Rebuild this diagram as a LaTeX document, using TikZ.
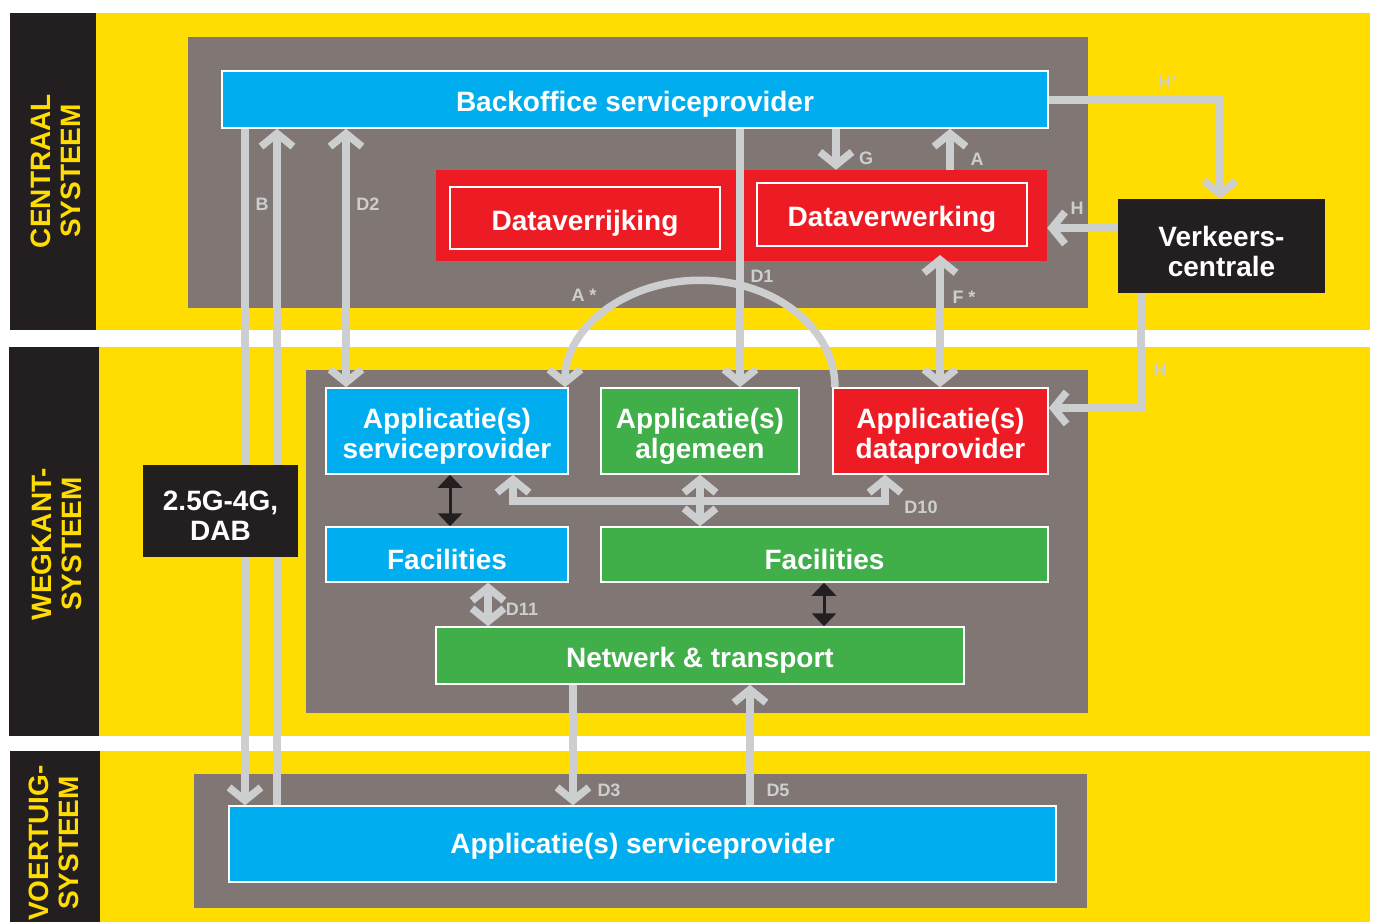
\documentclass[tikz,border=0pt]{standalone}
\usepackage{fontspec}
\setmainfont{Liberation Sans}
\usetikzlibrary{arrows.meta}
\definecolor{yellowC}{RGB}{255,221,0}
\definecolor{blackC}{RGB}{35,31,32}
\definecolor{panelC}{RGB}{128,118,115}
\definecolor{cyanC}{RGB}{0,174,239}
\definecolor{redC}{RGB}{237,28,36}
\definecolor{greenC}{RGB}{64,174,73}
\definecolor{connC}{RGB}{205,206,208}
\begin{document}
\begin{tikzpicture}[x=1pt,y=-1pt,
  Chev/.tip={Straight Barb[sharp,length=13pt,width=32pt]},
  BTri/.tip={Triangle[length=13pt,width=24pt]},
  txt/.style={inner sep=0pt,text=white,
    font=\bfseries\fontsize{28}{30}\selectfont,align=center,yshift=-5pt},
  box/.style={draw=white,line width=1.5pt,inner sep=0pt,
    label={[txt]center:{#1}}},
  widebox/.style={draw=white,line width=1.5pt,inner sep=0pt,
    label={[txt,yshift=3pt]center:{#1}}},
  plainbox/.style={inner sep=0pt,label={[txt]center:{#1}}},
  conn/.style={draw=connC,line width=7.5pt},
  blk/.style={draw=blackC,line width=3pt,{BTri}-{BTri}},
  lbl/.style={text=connC,font=\bfseries\fontsize{18}{20}\selectfont,inner sep=0pt},
  side/.style={text=yellowC,font=\bfseries\fontsize{28}{30}\selectfont,
    align=center,rotate=90,inner sep=0pt}]

\useasboundingbox (0,0) rectangle (1374,922);
\fill[white] (0,0) rectangle (1374,922);

% layer bands
\fill[yellowC] (96,13) rectangle (1370,330);
\fill[yellowC] (99,347) rectangle (1370,736);
\fill[yellowC] (100,751) rectangle (1370,922);
\fill[blackC] (10,13) rectangle (96,330);
\fill[blackC] (9,347) rectangle (99,736);
\fill[blackC] (10,751) rectangle (100,922);

\node[side] (sCentraal) at (56,171) {CENTRAAL\\SYSTEEM};
\node[side] (sWegkant) at (57,544) {WEGKANT-\\SYSTEEM};
\node[side] (sVoertuig) at (54,843) {VOERTUIG-\\SYSTEEM};

% grey system panels
\fill[panelC] (188,37) rectangle (1088,308);
\fill[panelC] (306,370) rectangle (1088,713);
\fill[panelC] (194,774) rectangle (1087,908);

% central system
\node[box={Backoffice serviceprovider},fill=cyanC,minimum width=826pt,minimum height=57pt] (bo) at (635,99.5) {};
\node[fill=redC,inner sep=0pt,minimum width=611pt,minimum height=91pt] (redbg) at (741.5,215.5) {};
\node[box={Dataverrijking},fill=redC,minimum width=270pt,minimum height=62pt] (dvr) at (585,218) {};
\node[box={Dataverwerking},fill=redC,minimum width=270pt,minimum height=63pt] (dvw) at (892,214.5) {};
\node[plainbox={Verkeers-\\centrale},fill=blackC,minimum width=207pt,minimum height=94pt] (vc) at (1221.5,246) {};

% roadside system
\node[box={Applicatie(s)\\serviceprovider},fill=cyanC,minimum width=242pt,minimum height=86pt] (asp) at (447,431) {};
\node[box={Applicatie(s)\\algemeen},fill=greenC,minimum width=198pt,minimum height=86pt] (aal) at (700,431) {};
\node[box={Applicatie(s)\\dataprovider},fill=redC,minimum width=215pt,minimum height=86pt] (adp) at (940.5,431) {};
\node[box={Facilities},fill=cyanC,minimum width=242pt,minimum height=55pt] (fcy) at (447,554.5) {};
\node[box={Facilities},fill=greenC,minimum width=447pt,minimum height=55pt] (fgr) at (824.5,554.5) {};
\node[box={Netwerk \& transport},fill=greenC,minimum width=528pt,minimum height=57pt] (net) at (700,655.5) {};

% vehicle system
\node[widebox={Applicatie(s) serviceprovider},fill=cyanC,minimum width=827pt,minimum height=76pt] (veh) at (642.5,844) {};

% connectors
\draw[conn,-{Chev}] (bo.south -| 245,0) -- (veh.north -| 245,0);
\draw[conn,-{Chev}] (veh.north -| 277,0) -- (bo.south -| 277,0);
\draw[conn,{Chev}-{Chev}] (bo.south -| 346,0) -- (asp.north -| 346,0);
\draw[conn,-{Chev}] (bo.south -| 740,0) -- (aal.north -| 740,0);
\draw[conn,-{Chev}] (bo.south -| 836,0) -- (redbg.north -| 836,0);
\draw[conn,-{Chev}] (redbg.north -| 950,0) -- (bo.south -| 950,0);
\draw[conn,-{Chev}] (bo.east |- 0,100) -| (vc.north -| 1220,0);
\draw[conn,-{Chev}] (vc.west |- 0,228) -- (redbg.east |- 0,228);
\draw[conn,-{Chev}] (vc.south -| 1141,0) |- (adp.east |- 0,408);
\coordinate (fTop) at (940,255);
\draw[conn,{Chev}-{Chev}] (fTop) -- (adp.north -| fTop);
\draw[conn,-{Chev}] (adp.north -| 835,0) arc[start angle=0,end angle=180,x radius=135pt,y radius=107pt];
\draw[conn,{Chev}-{Chev}] (asp.south -| 513,0) -- ++(0,26) -| (adp.south -| 885,0);
\draw[conn,{Chev}-{Chev}] (aal.south) -- (fgr.north -| aal.south);
\draw[conn,{Chev}-{Chev}] (fcy.south -| 488,0) -- (net.north -| 488,0);
\draw[conn,-{Chev}] (net.south -| 573,0) -- (veh.north -| 573,0);
\draw[conn,-{Chev}] (veh.north -| 750,0) -- (net.south -| 750,0);
\draw[blk] (asp.south -| 450,0) -- (fcy.north -| 450,0);
\draw[blk] (fgr.south -| 824,0) -- (net.north -| 824,0);

% radio link box sits over the long links
\node[plainbox={2.5G-4G,\\DAB},fill=blackC,minimum width=155pt,minimum height=92pt] (dab) at (220.5,511) {};

% interface labels
\node[lbl] (lB) at (262,204) {B};
\node[lbl] (lD2) at (368,204) {D2};
\node[lbl] (lG) at (866,158) {G};
\node[lbl] (lA) at (977,159) {A};
\node[lbl] (lHp) at (1167,82) {H'};
\node[lbl] (lH1) at (1077,208) {H};
\node[lbl] (lD1) at (762,276) {D1};
\node[lbl] (lAs) at (584,295) {A *};
\node[lbl] (lFs) at (964,297) {F *};
\node[lbl] (lH2) at (1160,370) {H};
\node[lbl] (lD10) at (921,507) {D10};
\node[lbl] (lD11) at (522,609) {D11};
\node[lbl] (lD3) at (609,790) {D3};
\node[lbl] (lD5) at (778,790) {D5};
\end{tikzpicture}
\end{document}
